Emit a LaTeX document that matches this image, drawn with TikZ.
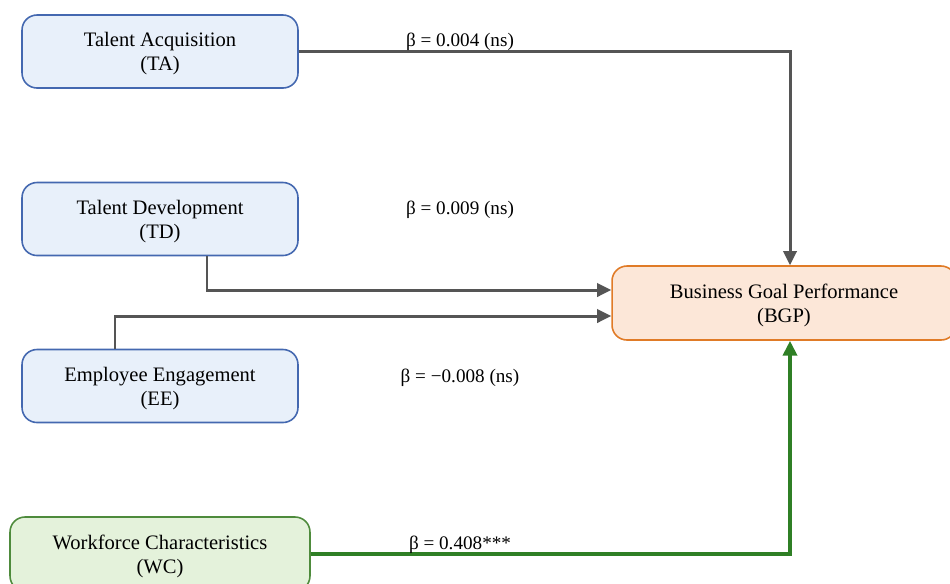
\documentclass[tikz,border=0pt]{standalone}
\usepackage{fontspec}
\setmainfont{Liberation Serif}
\usetikzlibrary{arrows.meta,positioning}
\definecolor{tmfill}{HTML}{E8F0FA}
\definecolor{tmline}{HTML}{4468B0}
\definecolor{bgfill}{HTML}{FCE7D8}
\definecolor{bgline}{HTML}{E07B27}
\definecolor{wcfill}{HTML}{E4F2DB}
\definecolor{wcline}{HTML}{4E8B3C}
\definecolor{arrgray}{HTML}{555555}
\definecolor{arrgreen}{HTML}{2F7F25}

\begin{document}
\begin{tikzpicture}[x=0.02cm,y=-0.02cm,
  every node/.style={font=\fontsize{10.9}{13.6}\selectfont, align=center, inner sep=2pt},
  box/.style={draw,rounded corners=8.5pt,line width=0.9pt,minimum width=5.52cm,minimum height=1.46cm,
    font=\fontsize{11.7}{13.6}\selectfont,text depth=-3pt},
  tmbox/.style={box,fill=tmfill,draw=tmline},
  link/.style={draw=arrgray,line width=1.7pt,-{Triangle[length=8pt,width=7.5pt]}},
  keylink/.style={draw=arrgreen,line width=2.1pt,-{Triangle[length=8.5pt,width=8pt]}}]
\useasboundingbox (0,0) rectangle (950,583);
\begin{scope}
\clip (0,0) rectangle (950,583);
% predictors
\node[tmbox] (ta) at (160,51.5) {Talent Acquisition\\(TA)};
\node[tmbox] (td) at (160,219) {Talent Development\\(TD)};
\node[tmbox] (ee) at (160,386) {Employee Engagement\\(EE)};
\node[box,fill=wcfill,draw=wcline,minimum width=6cm,minimum height=1.48cm] (wc) at (160,554) {Workforce Characteristics\\(WC)};
% outcome
\node[box,fill=bgfill,draw=bgline,minimum width=6.88cm,minimum height=1.48cm] (bgp) at (784,303) {Business Goal Performance\\(BGP)};
% paths
\coordinate (tabend) at (790,51.5);
\coordinate (tdbend) at (207,290);
\coordinate (eebend) at (115,316);
\coordinate (wcbend) at (790,554);
\draw[link] (ta.east) -- (tabend) -- (tabend |- bgp.north);
\draw[link] (tdbend |- td.south) -- (tdbend) -- (tdbend -| bgp.west);
\draw[link] (eebend |- ee.north) -- (eebend) -- (eebend -| bgp.west);
\draw[keylink] (wc.east) -- (wcbend) -- (wcbend |- bgp.south);
% coefficients
\node (bta) at (460,42) {β = 0.004 (ns)};
\node (btd) at (460,210) {β = 0.009 (ns)};
\node (bee) at (460,378) {β = −0.008 (ns)};
\node (bwc) at (460,545) {β = 0.408***};
\end{scope}
\end{tikzpicture}
\end{document}
